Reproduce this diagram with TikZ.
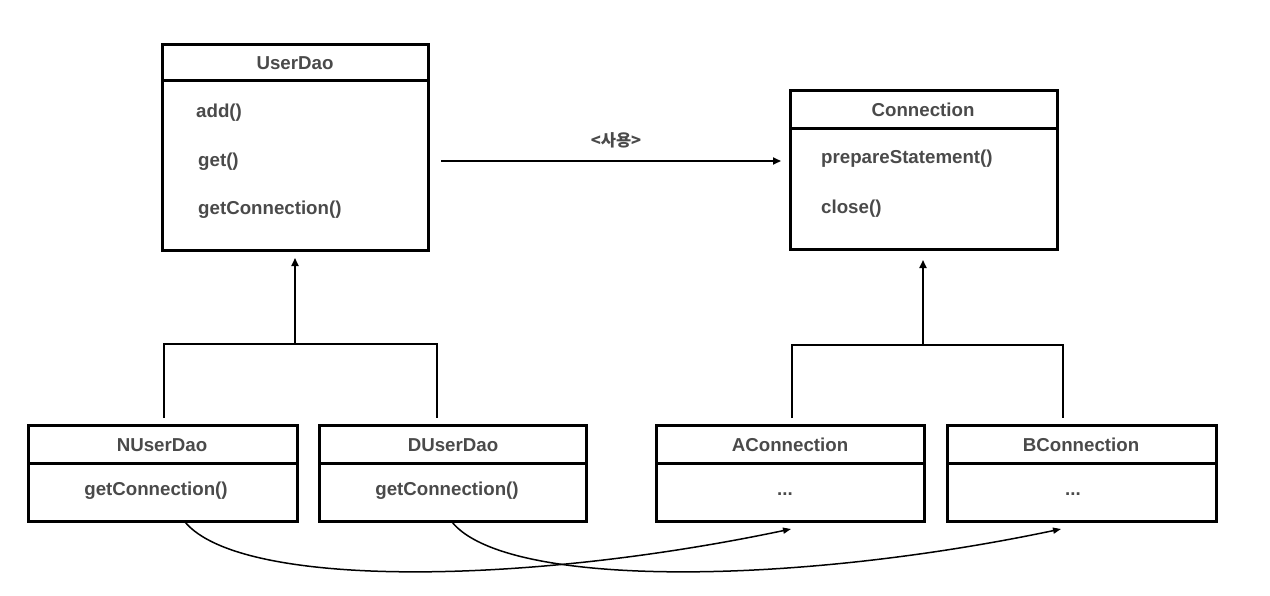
\documentclass[tikz,border=0pt]{standalone}
\usepackage{fontspec}
\setmainfont{Liberation Sans}
\newfontfamily\krfont{Noto Sans CJK KR}
\usetikzlibrary{arrows.meta}
\definecolor{txtgray}{HTML}{4A4A4A}
\begin{document}
\begin{tikzpicture}[x=1pt,y=-1pt,
  box/.style={draw, line width=3pt, anchor=north west, inner sep=0pt, outer sep=0pt},
  sep/.style={line width=3pt},
  lbl/.style={font=\bfseries\fontsize{18.7}{21}\selectfont, text=txtgray, inner sep=0pt},
  conn/.style={line width=1.8pt, -{Triangle[length=8pt,width=7pt]}},
  plain/.style={line width=1.8pt},
  curve/.style={line width=1.5pt, -{Triangle[length=8pt,width=6pt]}},
]
\useasboundingbox (0,0) rectangle (1270,595);

% ---------- UserDao ----------
\node[box, minimum width=266pt, minimum height=206pt] (userdao) at (162,44) {};
\draw[sep] (userdao.west |- 0,80) -- (userdao.east |- 0,80);
\node[lbl] (userdaoT) at (295,63) {UserDao};
\node[lbl, anchor=west] (m1) at (196,113) {add()};
\node[lbl, anchor=west] (m2) at (198,162) {get()};
\node[lbl, anchor=west] (m3) at (198,210) {getConnection()};

% ---------- Connection ----------
\node[box, minimum width=267pt, minimum height=159pt] (conn) at (790,90) {};
\draw[sep] (conn.west |- 0,128) -- (conn.east |- 0,128);
\node[lbl] (connT) at (923,110) {Connection};
\node[lbl, anchor=west] (m4) at (821,159) {prepareStatement()};
\node[lbl, anchor=west] (m5) at (821,209) {close()};

% ---------- usage arrow ----------
\node[font=\krfont\bfseries\fontsize{16.5}{18}\selectfont, text=txtgray, inner sep=0pt] (use) at (616,140) {<사용>};
\coordinate (useS) at (441,161);
\coordinate (useE) at (781,161);
\draw[conn] (useS) -- (useE);

% ---------- subclasses ----------
\node[box, minimum width=269pt, minimum height=96pt] (nud) at (28,425) {};
\draw[sep] (nud.west |- 0,463) -- (nud.east |- 0,463);
\node[lbl] (nudT) at (162,445) {NUserDao};
\node[lbl] (nudM) at (156,491) {getConnection()};

\node[box, minimum width=267pt, minimum height=96pt] (dud) at (319,425) {};
\draw[sep] (dud.west |- 0,463) -- (dud.east |- 0,463);
\node[lbl] (dudT) at (453,445) {DUserDao};
\node[lbl] (dudM) at (447,491) {getConnection()};

\node[box, minimum width=268pt, minimum height=96pt] (acon) at (656,425) {};
\draw[sep] (acon.west |- 0,463) -- (acon.east |- 0,463);
\node[lbl] (aconT) at (790,445) {AConnection};
\node[lbl] (aconM) at (785,494) {...};

\node[box, minimum width=269pt, minimum height=96pt] (bcon) at (947,425) {};
\draw[sep] (bcon.west |- 0,463) -- (bcon.east |- 0,463);
\node[lbl] (bconT) at (1081,445) {BConnection};
\node[lbl] (bconM) at (1073,494) {...};

% ---------- inheritance (left) ----------
\coordinate (ljoin) at (295,344);
\coordinate (ltip) at (295,258);
\coordinate (lL) at (164,344);
\coordinate (lR) at (437,344);
\coordinate (lLb) at (164,418);
\coordinate (lRb) at (437,418);
\draw[plain] (lLb) -- (lL) -- (lR) -- (lRb);
\draw[conn] (ljoin) -- (ltip);

% ---------- inheritance (right) ----------
\coordinate (rjoin) at (923,345);
\coordinate (rtip) at (923,260);
\coordinate (rL) at (792,345);
\coordinate (rR) at (1063,345);
\coordinate (rLb) at (792,418);
\coordinate (rRb) at (1063,418);
\draw[plain] (rLb) -- (rL) -- (rR) -- (rRb);
\draw[conn] (rjoin) -- (rtip);

% ---------- curves ----------
\coordinate (c1s) at (185,522);
\coordinate (c1e) at (791,529);
\coordinate (c2s) at (452,522);
\coordinate (c2e) at (1061,529);
\draw[curve] (c1s) .. controls (240,588) and (520,586) .. (c1e);
\draw[curve] (c2s) .. controls (505,588) and (790,586) .. (c2e);
\end{tikzpicture}
\end{document}
